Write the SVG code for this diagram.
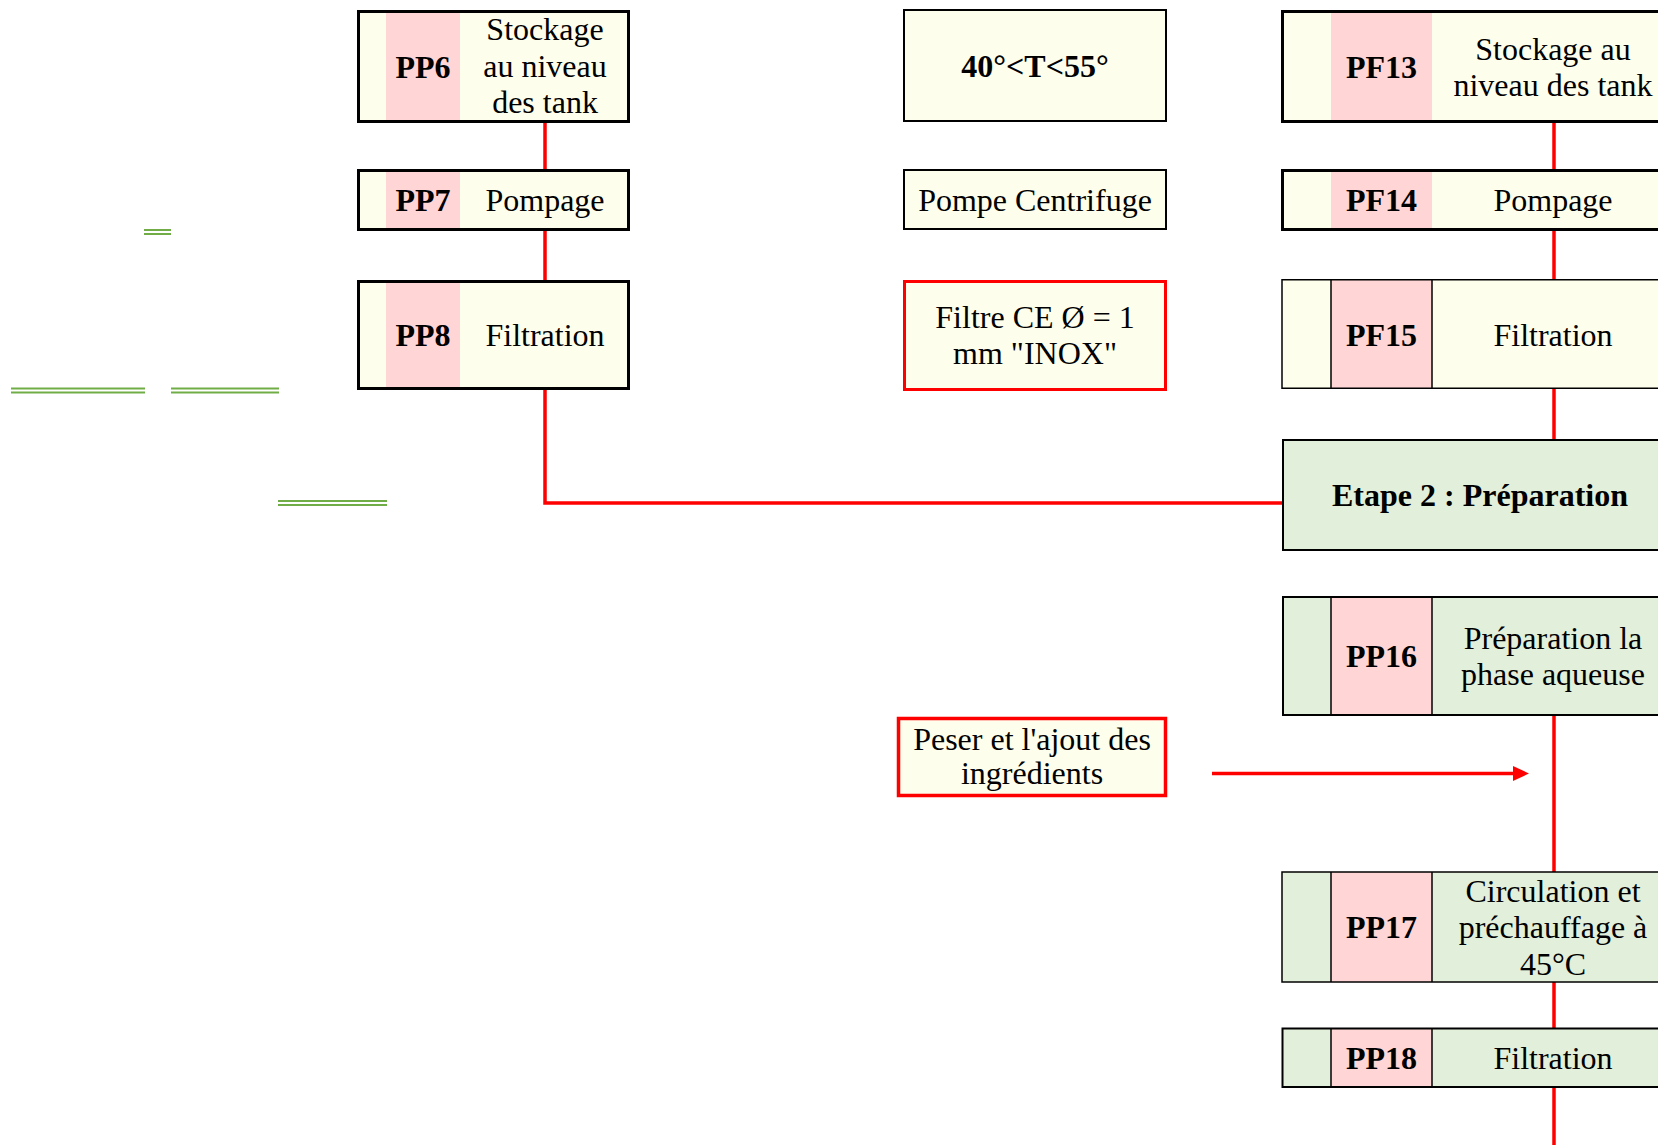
<svg xmlns="http://www.w3.org/2000/svg" width="1658" height="1145" viewBox="0 0 1658 1145">
<defs>
<style>
.t{font-family:"Liberation Serif","Times New Roman",serif;font-size:32px;fill:#000;text-anchor:middle}
.b{font-weight:bold}
.y{fill:#FEFEEC}
.g{fill:#E2EFDA}
.p{fill:#FFD5D5}
.bd{fill:none;stroke:#000}
.rd{fill:none;stroke:#FF0000}
.dv{stroke:#000;stroke-width:1.5}
.c{fill:none;stroke:#FF0000;stroke-width:3.5}
.deco{stroke:#70AD47;stroke-width:2}
</style>
<marker id="ah" viewBox="0 0 16 15" markerWidth="16" markerHeight="15" markerUnits="userSpaceOnUse" refX="2" refY="7.5" orient="auto">
<path d="M0,0 L16,7.5 L0,15 z" fill="#FF0000"/>
</marker>
</defs>
<rect width="1658" height="1145" fill="#FFFFFF"/>

<g id="decorations">
<line class="deco" x1="144" y1="230" x2="171" y2="230"/>
<line class="deco" x1="144" y1="234" x2="171" y2="234"/>
<line class="deco" x1="11" y1="388.5" x2="145" y2="388.5"/>
<line class="deco" x1="11" y1="392.5" x2="145" y2="392.5"/>
<line class="deco" x1="171" y1="388.5" x2="279" y2="388.5"/>
<line class="deco" x1="171" y1="392.5" x2="279" y2="392.5"/>
<line class="deco" x1="278" y1="501" x2="387" y2="501"/>
<line class="deco" x1="278" y1="505" x2="387" y2="505"/>
</g>

<g id="connectors">
<line class="c" x1="545" y1="123" x2="545" y2="169"/>
<line class="c" x1="545" y1="231" x2="545" y2="280"/>
<path class="c" d="M545 390 V503 H1282"/>
<line class="c" x1="1554" y1="123" x2="1554" y2="169"/>
<line class="c" x1="1554" y1="231" x2="1554" y2="279"/>
<line class="c" x1="1554" y1="389" x2="1554" y2="439"/>
<line class="c" x1="1554" y1="716" x2="1554" y2="872"/>
<line class="c" x1="1554" y1="982" x2="1554" y2="1028"/>
<line class="c" x1="1554" y1="1088" x2="1554" y2="1145"/>
<line class="c" x1="1212" y1="773.5" x2="1515" y2="773.5" stroke-width="4" marker-end="url(#ah)"/>
</g>

<g id="PP6">
<rect class="y" x="358" y="11" width="271" height="111"/>
<rect class="p" x="386" y="11" width="74" height="111"/>
<rect class="bd" x="358.5" y="11.5" width="270" height="110" stroke-width="3"/>
<text class="t b" x="423" y="78">PP6</text>
<text class="t" x="545" y="40">Stockage</text>
<text class="t" x="545" y="77">au niveau</text>
<text class="t" x="545" y="113">des tank</text>
</g>

<g id="PP7">
<rect class="y" x="358" y="170" width="271" height="60"/>
<rect class="p" x="386" y="170" width="74" height="60"/>
<rect class="bd" x="358.5" y="170.5" width="270" height="59" stroke-width="3"/>
<text class="t b" x="423" y="211">PP7</text>
<text class="t" x="545" y="211">Pompage</text>
</g>

<g id="PP8">
<rect class="y" x="358" y="281" width="271" height="108"/>
<rect class="p" x="386" y="281" width="74" height="108"/>
<rect class="bd" x="358.5" y="281.5" width="270" height="107" stroke-width="3"/>
<text class="t b" x="423" y="346">PP8</text>
<text class="t" x="545" y="346">Filtration</text>
</g>

<g id="temp">
<rect class="y" x="904" y="10" width="262" height="111"/>
<rect class="bd" x="904" y="10" width="262" height="111" stroke-width="2"/>
<text class="t b" x="1035" y="77">40°&lt;T&lt;55°</text>
</g>

<g id="pompe">
<rect class="y" x="904" y="170" width="262" height="59"/>
<rect class="bd" x="904" y="170" width="262" height="59" stroke-width="2"/>
<text class="t" x="1035" y="210.5">Pompe Centrifuge</text>
</g>

<g id="filtre">
<rect class="y" x="904.5" y="281.5" width="261" height="108"/>
<rect class="rd" x="904.5" y="281.5" width="261" height="108" stroke-width="3"/>
<text class="t" x="1035" y="327.5">Filtre CE Ø = 1</text>
<text class="t" x="1035" y="364">mm "INOX"</text>
</g>

<g id="peser">
<rect class="y" x="898.5" y="718.5" width="267" height="77"/>
<rect class="rd" x="898.5" y="718.5" width="267" height="77" stroke-width="3.5"/>
<text class="t" x="1032" y="749.5">Peser et l'ajout des</text>
<text class="t" x="1032" y="784">ingrédients</text>
</g>

<g id="PF13">
<rect class="y" x="1282" y="11" width="400" height="111"/>
<rect class="p" x="1331" y="11" width="101" height="111"/>
<rect class="bd" x="1282.5" y="11.5" width="400" height="110" stroke-width="3"/>
<text class="t b" x="1381.5" y="78">PF13</text>
<text class="t" x="1553" y="59.5">Stockage au</text>
<text class="t" x="1553" y="96">niveau des tank</text>
</g>

<g id="PF14">
<rect class="y" x="1282" y="170" width="400" height="60"/>
<rect class="p" x="1331" y="170" width="101" height="60"/>
<rect class="bd" x="1282.5" y="170.5" width="400" height="59" stroke-width="3"/>
<text class="t b" x="1381.5" y="211">PF14</text>
<text class="t" x="1553" y="211">Pompage</text>
</g>

<g id="PF15">
<rect class="y" x="1282" y="280" width="400" height="108.5"/>
<rect class="p" x="1331" y="280" width="101" height="108.5"/>
<line class="dv" x1="1331" y1="280" x2="1331" y2="388.5"/>
<line class="dv" x1="1432" y1="280" x2="1432" y2="388.5"/>
<rect class="bd" x="1282" y="279.75" width="400" height="108.5" stroke-width="1.5"/>
<text class="t b" x="1381.5" y="346">PF15</text>
<text class="t" x="1553" y="346">Filtration</text>
</g>

<g id="etape2">
<rect class="g" x="1283" y="440" width="400" height="110"/>
<rect class="bd" x="1283" y="440" width="400" height="110" stroke-width="2"/>
<text class="t b" x="1480" y="506">Etape 2 : Préparation</text>
</g>

<g id="PP16">
<rect class="g" x="1283" y="597" width="400" height="118"/>
<rect class="p" x="1331" y="597" width="101" height="118"/>
<line class="dv" x1="1331" y1="597" x2="1331" y2="715"/>
<line class="dv" x1="1432" y1="597" x2="1432" y2="715"/>
<rect class="bd" x="1283" y="597" width="400" height="118" stroke-width="2"/>
<text class="t b" x="1381.5" y="667">PP16</text>
<text class="t" x="1553" y="648.5">Préparation la</text>
<text class="t" x="1553" y="685">phase aqueuse</text>
</g>

<g id="PP17">
<rect class="g" x="1282" y="872" width="400" height="110"/>
<rect class="p" x="1331" y="872" width="101" height="110"/>
<line class="dv" x1="1331" y1="872" x2="1331" y2="982"/>
<line class="dv" x1="1432" y1="872" x2="1432" y2="982"/>
<rect class="bd" x="1282" y="872" width="400" height="110" stroke-width="1.5"/>
<text class="t b" x="1381.5" y="938">PP17</text>
<text class="t" x="1553" y="901.5">Circulation et</text>
<text class="t" x="1553" y="938">préchauffage à</text>
<text class="t" x="1553" y="975">45°C</text>
</g>

<g id="PP18">
<rect class="g" x="1282" y="1028" width="400" height="59"/>
<rect class="p" x="1331" y="1028" width="101" height="59"/>
<line class="dv" x1="1331" y1="1028" x2="1331" y2="1087"/>
<line class="dv" x1="1432" y1="1028" x2="1432" y2="1087"/>
<rect class="bd" x="1282.5" y="1028.5" width="400" height="58.5" stroke-width="2"/>
<text class="t b" x="1381.5" y="1068.5">PP18</text>
<text class="t" x="1553" y="1068.5">Filtration</text>
</g>
</svg>
